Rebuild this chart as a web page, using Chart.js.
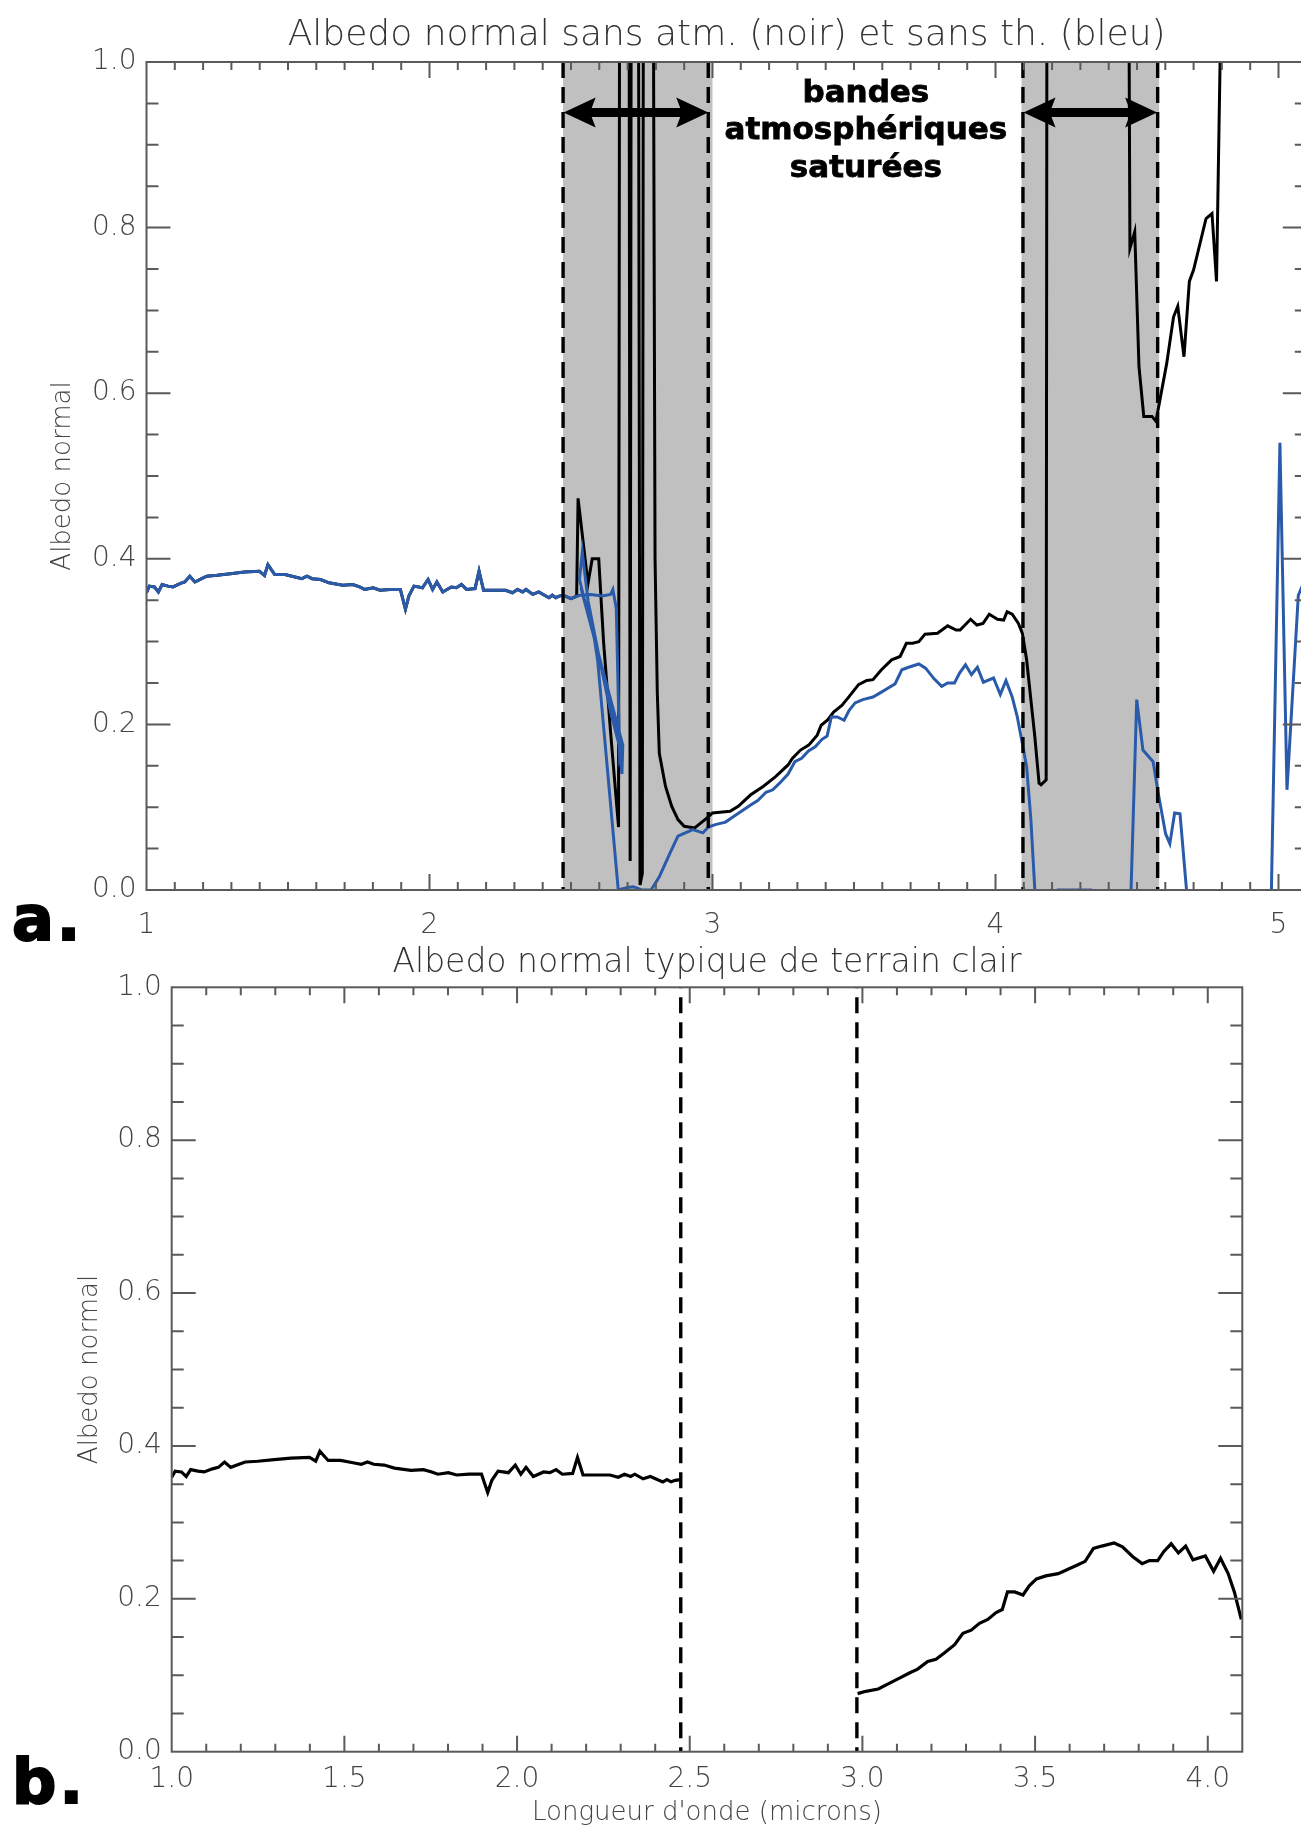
<!DOCTYPE html>
<html lang="fr">
<head>
<meta charset="utf-8">
<title>Albedo normal</title>
<script src="https://cdn.jsdelivr.net/npm/chart.js@4.4.1/dist/chart.umd.min.js"></script>
<style>
  html, body { margin: 0; padding: 0; background: #fff; }
  body { width: 1301px; height: 1829px; position: relative; overflow: hidden; }
  canvas { position: absolute; left: 0; }
  #chartA { top: 0; }
  #chartB { top: 930px; }
  .panel-tag {
    position: absolute; left: 12px;
    font: bold 62px 'DejaVu Sans', sans-serif; line-height: 60px;
    color: #000; -webkit-text-stroke: 2px #000; letter-spacing: 3px;
  }
</style>
</head>
<body>
<canvas id="chartA" width="1340" height="950"></canvas>
<canvas id="chartB" width="1301" height="899"></canvas>
<div class="panel-tag" style="top:889px">a.</div>
<div class="panel-tag" style="top:1752px">b.</div>
<script>
// common part 1.0-2.47 µm (same in black, blue and panel b)
const wlNear = [1.000, 1.010, 1.028, 1.042, 1.055, 1.076, 1.094, 1.118, 1.135, 1.153,
  1.171, 1.195, 1.213, 1.249, 1.297, 1.345, 1.399, 1.417, 1.429, 1.453,
  1.489, 1.525, 1.549, 1.567, 1.585, 1.615, 1.645, 1.693, 1.729, 1.753,
  1.771, 1.801, 1.825, 1.861, 1.897, 1.915, 1.927, 1.945, 1.975, 1.995,
  2.011, 2.026, 2.047, 2.077, 2.095, 2.113, 2.131, 2.161, 2.175, 2.191,
  2.233, 2.269, 2.293, 2.311, 2.329, 2.341, 2.365, 2.386, 2.422, 2.434,
  2.446, 2.458, 2.472];
const albNear = [0.359, 0.367, 0.366, 0.360, 0.369, 0.367, 0.366, 0.370, 0.372, 0.379,
  0.372, 0.376, 0.379, 0.380, 0.382, 0.384, 0.385, 0.380, 0.393, 0.381,
  0.381, 0.378, 0.376, 0.379, 0.376, 0.375, 0.371, 0.368, 0.369, 0.366,
  0.363, 0.365, 0.362, 0.363, 0.363, 0.339, 0.355, 0.367, 0.365, 0.375,
  0.363, 0.372, 0.360, 0.366, 0.365, 0.369, 0.363, 0.364, 0.385, 0.362,
  0.362, 0.362, 0.359, 0.363, 0.360, 0.363, 0.357, 0.360, 0.353, 0.356,
  0.353, 0.355, 0.356];

// 3.0-4.1 µm without thermal (blue in a, black in b)
const wlMid = [2.986, 3.010, 3.046, 3.076, 3.106, 3.136, 3.160, 3.189, 3.213, 3.237,
  3.267, 3.291, 3.315, 3.339, 3.363, 3.387, 3.405, 3.420, 3.441, 3.465,
  3.483, 3.504, 3.531, 3.567, 3.597, 3.621, 3.645, 3.669, 3.693, 3.729,
  3.753, 3.783, 3.810, 3.831, 3.855, 3.873, 3.894, 3.915, 3.936, 3.957,
  3.993, 4.017, 4.037, 4.059, 4.077, 4.097];
const albMid = [0.076, 0.079, 0.082, 0.089, 0.096, 0.103, 0.108, 0.118, 0.121, 0.129,
  0.140, 0.155, 0.159, 0.168, 0.173, 0.182, 0.186, 0.209, 0.209, 0.205,
  0.217, 0.226, 0.230, 0.233, 0.239, 0.244, 0.249, 0.266, 0.269, 0.273,
  0.268, 0.255, 0.246, 0.250, 0.250, 0.262, 0.272, 0.260, 0.269, 0.251,
  0.256, 0.236, 0.253, 0.233, 0.209, 0.173];

// panel a, black (no atmosphere) beyond 2.47 µm
const wlBlackBand1 = [2.500, 2.520, 2.525, 2.560, 2.575, 2.598, 2.615, 2.640, 2.668, 2.672,
  2.705, 2.709, 2.713, 2.738, 2.744, 2.752, 2.756, 2.790, 2.797, 2.805,
  2.812, 2.834, 2.856, 2.878, 2.900, 2.937, 2.959, 2.981];
const albBlackBand1 = [0.352, 0.355, 0.473, 0.370, 0.400, 0.400, 0.300, 0.190, 0.076, 1.2,
  1.2, 0.035, 1.2, 1.2, 0.006, 0.020, 1.2, 1.2, 0.400, 0.238,
  0.165, 0.125, 0.101, 0.085, 0.077, 0.075, 0.081, 0.087];
const wlBlackMid = [3.000, 3.062, 3.091, 3.135, 3.179, 3.223, 3.267, 3.282, 3.311, 3.340,
  3.370, 3.384, 3.406, 3.428, 3.457, 3.479, 3.516, 3.545, 3.567, 3.597,
  3.633, 3.663, 3.685, 3.707, 3.729, 3.751, 3.795, 3.831, 3.861, 3.875,
  3.912, 3.934, 3.956, 3.978, 4.007, 4.029, 4.041, 4.059, 4.081, 4.095,
  4.110, 4.125, 4.139, 4.154, 4.161, 4.179];
const albBlackMid = [0.093, 0.095, 0.101, 0.115, 0.125, 0.137, 0.151, 0.159, 0.169, 0.175,
  0.187, 0.199, 0.205, 0.215, 0.223, 0.232, 0.248, 0.253, 0.254, 0.266,
  0.278, 0.282, 0.298, 0.298, 0.300, 0.309, 0.310, 0.319, 0.314, 0.314,
  0.327, 0.320, 0.322, 0.333, 0.327, 0.326, 0.336, 0.333, 0.322, 0.310,
  0.278, 0.230, 0.185, 0.129, 0.127, 0.133];
const wlBlackBand2 = [4.182, 4.470, 4.475, 4.492, 4.507, 4.524, 4.553, 4.567, 4.605, 4.629,
  4.644, 4.666, 4.685, 4.700, 4.744, 4.765, 4.781, 4.803, 5.100];
const albBlackBand2 = [1.2, 1.2, 0.775, 0.795, 0.632, 0.572, 0.572, 0.566, 0.636, 0.692,
  0.705, 0.644, 0.735, 0.749, 0.811, 0.817, 0.735, 1.2, 1.2];

// panel a, blue (no thermal) beyond 2.47 µm
const wlBlueBand1 = [2.500, 2.530, 2.570, 2.610, 2.640, 2.648, 2.660, 2.672, 2.680, 2.530,
  2.540, 2.560, 2.600, 2.640, 2.670, 2.680, 2.683, 2.535, 2.575, 2.594,
  2.667, 2.700, 2.720, 2.750, 2.783, 2.812, 2.849, 2.878, 2.930, 2.966];
const albBlueBand1 = [0.352, 0.356, 0.357, 0.355, 0.357, 0.363, 0.340, 0.160, 0.170, 0.375,
  0.408, 0.350, 0.280, 0.215, 0.175, 0.140, 0.175, 0.365, 0.320, 0.278,
  0.000, 0.003, 0.004, 0.000, 0.000, 0.016, 0.044, 0.065, 0.073, 0.069];
const wlBlueTail = [4.110, 4.125, 4.139, 4.150, 4.215, 4.222, 4.335, 4.342, 4.472, 4.479,
  4.499, 4.521, 4.557, 4.575, 4.601, 4.616, 4.633, 4.652, 4.675, 4.682,
  4.968, 4.975, 5.005, 5.030, 5.070, 5.100];
const albBlueTail = [0.149, 0.085, 0.000, -0.1, -0.1, 0.000, 0.000, -0.1, -0.1, 0.000,
  0.230, 0.169, 0.155, 0.117, 0.068, 0.056, 0.093, 0.092, 0.000, -0.1,
  -0.1, 0.000, 0.540, 0.121, 0.356, 0.380];

// saturated atmospheric bands (µm)
const shadeFrom = [2.472, 4.092];
const shadeTo = [3.000, 4.578];
const dashA = [2.472, 2.985, 4.097, 4.573];
const dashB = [2.474, 2.984];
const arrowFrom = [2.474, 4.099];
const arrowTo = [2.985, 4.571];
const arrowAt = 0.939;
const bandNote = ['bandes', 'atmosphériques', 'saturées'];
const noteAt = { x: 3.542, y: 0.952 };

const BLUE = '#2a5bab';
const INK = '#444';
const FAM = "'DejaVu Sans', sans-serif";

const pts = (xs, ys) => xs.map((x, i) => ({ x, y: ys[i] }));
const font = (size, weight = 200) => ({ family: FAM, size, weight });

function drawFrame(chart, xMinor, yMinor) {
    const { ctx, chartArea: a, scales: { x, y } } = chart;
    ctx.save();
    ctx.strokeStyle = '#5a5a5a';
    ctx.lineWidth = 2;
    ctx.strokeRect(a.left, a.top, a.right - a.left, a.bottom - a.top);
    ctx.beginPath();
    const xMaj = x.ticks.map(t => t.value);
    const nx = Math.round((x.max - x.min) / xMinor);
    for (let i = 1; i < nx; i++) {
        const v = x.min + i * xMinor;
        const len = xMaj.some(m => Math.abs(m - v) < 1e-6) ? 16 : 8;
        const px = x.getPixelForValue(v);
        ctx.moveTo(px, a.bottom); ctx.lineTo(px, a.bottom - len);
        ctx.moveTo(px, a.top); ctx.lineTo(px, a.top + len);
    }
    const yMaj = y.ticks.map(t => t.value);
    const ny = Math.round((y.max - y.min) / yMinor);
    for (let i = 1; i < ny; i++) {
        const v = y.min + i * yMinor;
        const len = yMaj.some(m => Math.abs(m - v) < 1e-6) ? 24 : 12;
        const py = y.getPixelForValue(v);
        ctx.moveTo(a.left, py); ctx.lineTo(a.left + len, py);
        ctx.moveTo(a.right, py); ctx.lineTo(a.right - len, py);
    }
    ctx.stroke();
    ctx.restore();
}

function drawDashes(chart, values, offset) {
    const { ctx, chartArea: a, scales: { x } } = chart;
    ctx.save();
    ctx.strokeStyle = '#000';
    ctx.lineWidth = 3.4;
    ctx.setLineDash([16, 9]);
    ctx.lineDashOffset = offset;
    values.forEach(v => {
        const px = x.getPixelForValue(v);
        ctx.beginPath();
        ctx.moveTo(px, a.top);
        ctx.lineTo(px, a.bottom);
        ctx.stroke();
    });
    ctx.restore();
}

function drawArrow(ctx, x0, x1, y) {
    const head = 32, half = 15, shaft = 4.5;
    ctx.beginPath();
    ctx.moveTo(x0, y);
    ctx.lineTo(x0 + head, y - half);
    ctx.lineTo(x0 + head - 4, y - shaft);
    ctx.lineTo(x1 - head + 4, y - shaft);
    ctx.lineTo(x1 - head, y - half);
    ctx.lineTo(x1, y);
    ctx.lineTo(x1 - head, y + half);
    ctx.lineTo(x1 - head + 4, y + shaft);
    ctx.lineTo(x0 + head - 4, y + shaft);
    ctx.lineTo(x0 + head, y + half);
    ctx.closePath();
    ctx.fill();
}

const decorA = {
    id: 'decorA',
    beforeDatasetsDraw(chart) {
        const { ctx, chartArea: a, scales: { x } } = chart;
        ctx.save();
        ctx.fillStyle = '#c1c0c1';
        shadeFrom.forEach((s, i) => {
            const x0 = x.getPixelForValue(s), x1 = x.getPixelForValue(shadeTo[i]);
            ctx.fillRect(x0, a.top, x1 - x0, a.bottom - a.top);
        });
        ctx.restore();
    },
    afterDatasetsDraw(chart) {
        const { ctx, scales: { x, y } } = chart;
        drawDashes(chart, dashA, 0);
        ctx.save();
        ctx.fillStyle = '#000';
        const py = y.getPixelForValue(arrowAt);
        arrowFrom.forEach((s, i) => drawArrow(ctx, x.getPixelForValue(s), x.getPixelForValue(arrowTo[i]), py));
        ctx.font = "bold 31px " + FAM;
        ctx.strokeStyle = '#000';
        ctx.lineWidth = 0.8;
        ctx.textAlign = 'center';
        ctx.textBaseline = 'alphabetic';
        const nx = x.getPixelForValue(noteAt.x), ny = y.getPixelForValue(noteAt.y);
        bandNote.forEach((t, i) => {
            ctx.fillText(t, nx, ny + i * 37.5);
            ctx.strokeText(t, nx, ny + i * 37.5);
        });
        ctx.restore();
        drawFrame(chart, 0.1, 0.05);
    }
};

const decorB = {
    id: 'decorB',
    afterDatasetsDraw(chart) {
        drawDashes(chart, dashB, 15);
        drawFrame(chart, 0.1, 0.05);
    }
};

const commonOpts = {
    responsive: false,
    animation: false,
    events: [],
    elements: { point: { radius: 0 }, line: { tension: 0 } }
};

new Chart(document.getElementById('chartA'), {
    type: 'line',
    data: {
        datasets: [
            {
                label: 'sans th. (bleu)',
                data: pts([...wlNear, ...wlBlueBand1, ...wlMid, ...wlBlueTail],
                          [...albNear, ...albBlueBand1, ...albMid, ...albBlueTail]),
                borderColor: BLUE, borderWidth: 3
            },
            {
                label: 'sans atm. (noir)',
                data: pts([...wlNear, ...wlBlackBand1, ...wlBlackMid, ...wlBlackBand2],
                          [...albNear, ...albBlackBand1, ...albBlackMid, ...albBlackBand2]),
                borderColor: '#000', borderWidth: 3
            }
        ]
    },
    options: {
        ...commonOpts,
        layout: { padding: { left: 0, right: 33.2, top: 0, bottom: 0 } },
        plugins: {
            legend: { display: false },
            tooltip: { enabled: false },
            title: {
                display: true, fullSize: false,
                text: 'Albedo normal sans atm. (noir) et sans th. (bleu)',
                color: '#333', font: font(36),
                padding: { top: 14.4, bottom: 4.4 }
            }
        },
        scales: {
            x: {
                type: 'linear', min: 1, max: 5.1,
                grid: { display: false, drawTicks: false },
                border: { display: false },
                ticks: { stepSize: 1, includeBounds: false, padding: 19, maxRotation: 0, autoSkip: false,
                         color: INK, font: font(28), callback: v => String(v) },
                afterFit: s => { s.height = 60; }
            },
            y: {
                min: 0, max: 1,
                grid: { display: false, drawTicks: false },
                border: { display: false },
                ticks: { stepSize: 0.2, padding: 10, color: INK, font: font(28),
                         callback: v => v.toFixed(1) },
                title: { display: true, text: 'Albedo normal', color: INK, font: font(26),
                         padding: { top: 48, bottom: 0 } },
                afterFit: s => { s.width = 146.5; }
            }
        }
    },
    plugins: [decorA]
});

new Chart(document.getElementById('chartB'), {
    type: 'line',
    data: {
        datasets: [
            { label: 'terrain clair 1-2.5', data: pts(wlNear, albNear), borderColor: '#000', borderWidth: 3.2 },
            { label: 'terrain clair 3-4.1', data: pts(wlMid, albMid), borderColor: '#000', borderWidth: 3.2 }
        ]
    },
    options: {
        ...commonOpts,
        layout: { padding: { left: 0, right: 58.7, top: 0, bottom: 0 } },
        plugins: {
            legend: { display: false },
            tooltip: { enabled: false },
            title: {
                display: true, fullSize: false,
                text: 'Albedo normal typique de terrain clair',
                color: '#333', font: font(33),
                padding: { top: 13.2, bottom: 4.5 }
            }
        },
        scales: {
            x: {
                type: 'linear', min: 1, max: 4.1,
                grid: { display: false, drawTicks: false },
                border: { display: false },
                ticks: { stepSize: 0.5, includeBounds: false, padding: 11.5, maxRotation: 0, autoSkip: false,
                         color: INK, font: font(28), callback: v => v.toFixed(1) },
                title: { display: true, text: "Longueur d'onde (microns)", color: INK, font: font(26),
                         padding: { top: 0, bottom: 0 } },
                afterFit: s => { s.height = 77.3; }
            },
            y: {
                min: 0, max: 1,
                grid: { display: false, drawTicks: false },
                border: { display: false },
                ticks: { stepSize: 0.2, padding: 10, color: INK, font: font(28),
                         callback: v => v.toFixed(1) },
                title: { display: true, text: 'Albedo normal', color: INK, font: font(26),
                         padding: { top: 75, bottom: 0 } },
                afterFit: s => { s.width = 171.7; }
            }
        }
    },
    plugins: [decorB]
});
</script>
</body>
</html>
